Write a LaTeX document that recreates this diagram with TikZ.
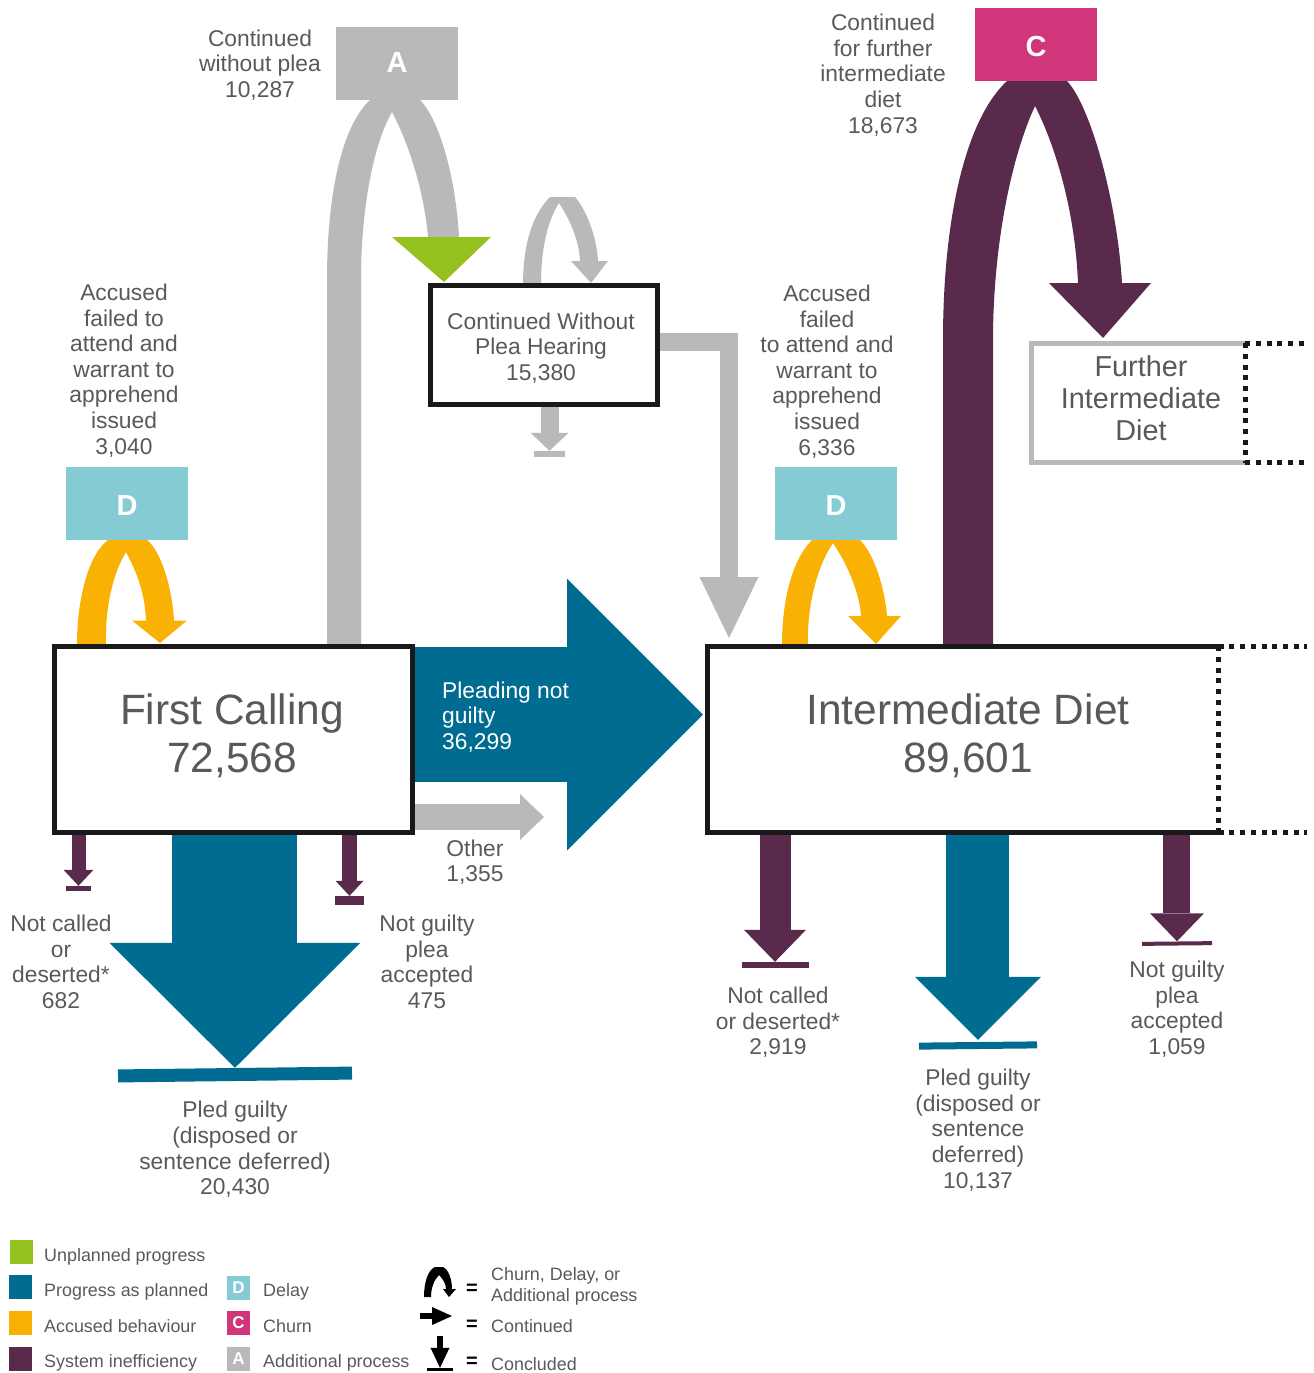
\documentclass[tikz,border=0pt]{standalone}
\usepackage{fontspec}
\setmainfont{Liberation Sans}
\usepackage{tikz}
\usetikzlibrary{arrows.meta}

\definecolor{cgrey}{HTML}{B9B9BB}
\definecolor{cteal}{HTML}{006C91}
\definecolor{cplum}{HTML}{5A2A4D}
\definecolor{corange}{HTML}{F9B104}
\definecolor{cgreen}{HTML}{95C11F}
\definecolor{cpink}{HTML}{D1357A}
\definecolor{clight}{HTML}{84CBD4}
\definecolor{ctext}{HTML}{58595B}

\tikzset{
	flow/.style n args={4}{draw=#1,line width=#2,-{Triangle[length=#3,width=#4,line width=0pt]}},
	stage/.style 2 args={fill=white,inner sep=0pt,minimum width=#1,minimum height=#2},
	tagbox/.style={fill=#1,text=white,inner sep=0pt,minimum width=122pt,minimum height=73pt,text depth=0pt,text height=24.8pt,font=\fontsize{29}{32}\selectfont\bfseries},
	stopbar/.style n args={3}{fill=#1,inner sep=0pt,minimum width=#2,minimum height=#3},
	lbl/.style={text=ctext,align=center,inner sep=0pt,font=\fontsize{22.8}{25.6}\selectfont},
	big/.style={text=ctext,align=center,inner sep=0pt,font=\fontsize{42.4}{48}\selectfont},
	mid/.style={text=ctext,align=center,inner sep=0pt,font=\fontsize{28.8}{32}\selectfont},
	swatch/.style={fill=#1,text=white,inner sep=0pt,minimum width=23pt,minimum height=24pt,font=\fontsize{17}{17}\selectfont\bfseries},
	keytext/.style={text=ctext,anchor=west,align=left,inner sep=0pt,font=\fontsize{17.9}{21}\selectfont},
	keyeq/.style={text=black,anchor=center,inner sep=0pt,font=\fontsize{20}{21}\selectfont\bfseries},
	dots/.style={draw=black!90,line width=5pt,dash pattern=on 5pt off 5.7pt}
}

\begin{document}
\begin{tikzpicture}[x=1pt,y=-1pt]
	\useasboundingbox (0,0) rectangle (1314,1373);

	% main boxes, tags and end bars
	\path
		(233.5,739.5) node[stage={358pt}{186pt}] (first) {}
		(544,345) node[stage={227pt}{119pt}] (cwp) {}
		(963,739.5) node[stage={511pt}{186pt}] (idiet) {}
		(1138.25,403) node[stage={213.5pt}{119pt}] (fdiet) {}
		(397,63.5) coordinate (Acentre)
		(1036,44.5) coordinate (Ccentre)
		(127,503.5) coordinate (D1centre)
		(836,503.5) coordinate (D2centre);

	\node[stopbar={cgrey}{31pt}{6pt}] (cwpstop) at (549.5,454) {};
	\node[stopbar={cplum}{25pt}{5pt}] (ncstop) at (78.5,888.5) {};
	\node[stopbar={cplum}{29pt}{9pt}] (ngstop) at (349.5,900.5) {};
	\node[stopbar={cteal}{234pt}{13pt},rotate=0.7] (pgstop) at (235,1074.5) {};
	\node[stopbar={cplum}{67pt}{6pt}] (nc2stop) at (775,965) {};
	\node[stopbar={cteal}{118pt}{7pt},rotate=0.6] (pg2stop) at (978,1045.5) {};
	\node[stopbar={cplum}{70pt}{4pt},rotate=0.6] (ng2stop) at (1177,943.5) {};

	% named points the arrows run through
	\coordinate (aout) at (327,280);
	\coordinate (ain) at (361,280);
	\coordinate (cout) at (943,340);
	\coordinate (cin) at (993,340);
	\coordinate (cwpin) at (444,282);
	\coordinate (fdin) at (1103,338);
	\coordinate (d1in) at (160,643);
	\coordinate (d2in) at (876,644);
	\coordinate (cwploopin) at (591,283);
	\coordinate (elbow) at (729,342);
	\coordinate (idin) at (729,638);
	\coordinate (pnapex) at (703,714.5);
	\coordinate (otherapex) at (544,817);

	% loops
	\fill[cgrey] (first.north -| aout) -- (aout) .. controls (327,190) and (343,125) .. (370,100) -- (Acentre) -- (420,100)
		.. controls (440,120) and (456,180) .. (459,237) -- (428,237)
		.. controls (424,190) and (408,142) .. (392,112)
		.. controls (373,145) and (361,210) .. (ain) -- (first.north -| ain) -- cycle;
	\fill[cgreen] (392,237) -- (491,237) -- (cwpin) -- cycle;
	\fill[cplum] (first.north -| cout) -- (cout) .. controls (943,220) and (965,120) .. (1007,81) -- (Ccentre) -- (1067,81)
		.. controls (1090,105) and (1117,200) .. (1122,283) -- (1151,283) -- (fdin) -- (1049,283) -- (1078,283)
		.. controls (1075,210) and (1055,145) .. (1035,106)
		.. controls (1010,160) and (993,250) .. (cin) -- (first.north -| cin) -- cycle;
	\fill[corange] (77,645) .. controls (77,600) and (88,555) .. (108,540) -- (D1centre) -- (147,540)
		.. controls (160,550) and (172,585) .. (174,620.5) -- (187,620.5) -- (d1in) -- (132,620.5) -- (146,620.5)
		.. controls (145,590) and (134,567) .. (126,552)
		.. controls (112,575) and (105,610) .. (106,645) -- cycle;
	\fill[corange] (782,645) .. controls (782,600) and (792,560) .. (812,540) -- (D2centre) -- (860,540)
		.. controls (875,555) and (885,590) .. (887,616) -- (901,616) -- (d2in) -- (848,616) -- (861,616)
		.. controls (860,595) and (848,565) .. (833,543)
		.. controls (815,570) and (807,610) .. (808,645) -- cycle;
	\fill[cgrey] (523,285) .. controls (523,245) and (532,215) .. (550,197) -- (575,197)
		.. controls (588,212) and (597,240) .. (598,261) -- (608,261) -- (cwploopin) -- (571,261) -- (580,261)
		.. controls (579,240) and (570,220) .. (559,203)
		.. controls (547,222) and (541,250) .. (541,285) -- cycle;

	% straight flows
	\draw[flow={cgrey}{18pt}{61pt}{59pt}] ([yshift=3pt]cwp.east) -- (elbow) -- (idin);
	\draw[flow={cgrey}{18pt}{18pt}{38pt}] (cwp.south -| cwpstop.north) -- (cwpstop.north);
	\draw[flow={cteal}{135pt}{136pt}{272pt}] ([yshift=25pt]first.east) -- (pnapex);
	\draw[flow={cgrey}{26pt}{24pt}{46pt}] (first.east |- otherapex) -- (otherapex);
	\draw[flow={cplum}{14pt}{16pt}{30pt}] (first.south -| ncstop.north) -- (ncstop.north);
	\draw[flow={cplum}{15pt}{15pt}{28pt}] (first.south -| ngstop.north) -- (ngstop.north);
	\draw[flow={cteal}{125pt}{125pt}{251pt}] (first.south -| pgstop.north) -- (pgstop.north);
	\draw[flow={cplum}{31pt}{32pt}{62pt}] (idiet.south -| nc2stop.north) -- (nc2stop.north);
	\draw[flow={cteal}{63pt}{63pt}{126pt}] (idiet.south -| pg2stop.north) -- ([yshift=2pt]pg2stop.north);
	\draw[flow={cplum}{27pt}{28pt}{54pt}] (idiet.south -| ng2stop.north) -- (ng2stop.north);

	% tags on top of the loops
	\node[tagbox=cgrey,text height=18.8pt] (A) at (Acentre) {A};
	\node[tagbox=cpink] (C) at (Ccentre) {C};
	\node[tagbox=clight] (D1) at (D1centre) {D};
	\node[tagbox=clight] (D2) at (D2centre) {D};

	% boxes on top of the flows
	\draw[line width=5pt,draw=black!90,fill=white] (first.north west) rectangle (first.south east);
	\draw[line width=5pt,draw=black!90,fill=white] (cwp.north west) rectangle (cwp.south east);
	\fill[white] (idiet.north west) rectangle (idiet.south east);
	\draw[line width=5pt,draw=black!90] (idiet.north east) -- (idiet.north west) -- (idiet.south west) -- (idiet.south east);
	\draw[dots] (idiet.north east) -- (idiet.south east);
	\draw[dots] (idiet.north east) -- ++(88,0);
	\draw[dots] (idiet.south east) -- ++(88,0);
	\draw[line width=5pt,draw=cgrey] (fdiet.north east) -- (fdiet.north west) -- (fdiet.south west) -- (fdiet.south east);
	\draw[dots] (fdiet.north east) -- (fdiet.south east);
	\draw[dots] (fdiet.north east) -- ++(64,0);
	\draw[dots] (fdiet.south east) -- ++(64,0);

	% box texts
	\node[big] (firsttext) at (232,736) {First Calling\\72,568};
	\node[big] (idiettext) at (968,736) {Intermediate Diet\\89,601};
	\node[lbl] (cwptext) at (541,348) {Continued Without\\Plea Hearing\\15,380};
	\node[mid] (fdiettext) at (1141,398) {Further\\Intermediate\\Diet};

	% flow labels
	\node[lbl] (lblA) at (260,65) {Continued\\without plea\\10,287};
	\node[lbl] (lblC) at (883,75) {Continued\\for further\\intermediate\\diet\\18,673};
	\node[lbl] (lblD1) at (124,370.5) {Accused\\failed to\\attend and\\warrant to\\apprehend\\issued\\3,040};
	\node[lbl] (lblD2) at (827,371.5) {Accused\\failed\\to attend and\\warrant to\\apprehend\\issued\\6,336};
	\node[lbl,text=white,align=left,anchor=west] (lblpn) at (442,717) {Pleading not\\guilty\\36,299};
	\node[lbl] (lblother) at (475,862) {Other\\1,355};
	\node[lbl] (lblnc) at (61,962) {Not called\\or\\deserted*\\682};
	\node[lbl] (lblng) at (427,962) {Not guilty\\plea\\accepted\\475};
	\node[lbl] (lblpg) at (235,1149.5) {Pled guilty\\(disposed or\\sentence deferred)\\20,430};
	\node[lbl] (lblnc2) at (778,1022.5) {Not called\\or deserted*\\2,919};
	\node[lbl] (lblng2) at (1177,1009) {Not guilty\\plea\\accepted\\1,059};
	\node[lbl] (lblpg2) at (978,1130) {Pled guilty\\(disposed or\\sentence\\deferred)\\10,137};

	% key
	\node[swatch=cgreen] (kgreen) at (21.5,1252) {};
	\node[swatch=cteal] (kteal) at (20.5,1287) {};
	\node[swatch=corange] (korange) at (20.5,1322.5) {};
	\node[swatch=cplum] (kplum) at (20.5,1358.5) {};
	\node[swatch=clight] (kD) at (238.5,1287.5) {D};
	\node[swatch=cpink] (kC) at (238.5,1322.5) {C};
	\node[swatch=cgrey] (kA) at (238.5,1358.5) {A};
	\node[keytext] at (44,1257) {Unplanned progress};
	\node[keytext] at (44,1292) {Progress as planned};
	\node[keytext] at (44,1326) {Accused behaviour};
	\node[keytext] at (44,1363) {System inefficiency};
	\node[keytext] at (263,1292) {Delay};
	\node[keytext] at (263,1326) {Churn};
	\node[keytext] at (263,1363) {Additional process};
	\node[keyeq] at (472,1289) {=};
	\node[keyeq] at (472,1325) {=};
	\node[keyeq] at (472,1362) {=};
	\node[keytext] at (491,1286) {Churn, Delay, or\\Additional process};
	\node[keytext] at (491,1326) {Continued};
	\node[keytext] at (491,1364) {Concluded};

	\fill[black] (424,1297) .. controls (424,1282) and (428,1270) .. (435,1267) -- (443,1267)
		.. controls (449,1270) and (452,1280) .. (452,1289) -- (456,1289) -- (449,1297) -- (443,1289) -- (446,1289)
		.. controls (446,1284) and (443,1279) .. (439,1275)
		.. controls (434,1280) and (431,1288) .. (431,1297) -- cycle;
	\coordinate (kc1) at (420,1316);
	\coordinate (kc2) at (452,1316);
	\draw[flow={black}{6pt}{20pt}{18pt}] (kc1) -- (kc2);
	\node[stopbar={black}{26pt}{3pt}] (kstop) at (440,1369.5) {};
	\coordinate (kd1) at (440,1336);
	\draw[flow={black}{6pt}{20pt}{19pt}] (kd1) -- (kstop.north);
\end{tikzpicture}
\end{document}
